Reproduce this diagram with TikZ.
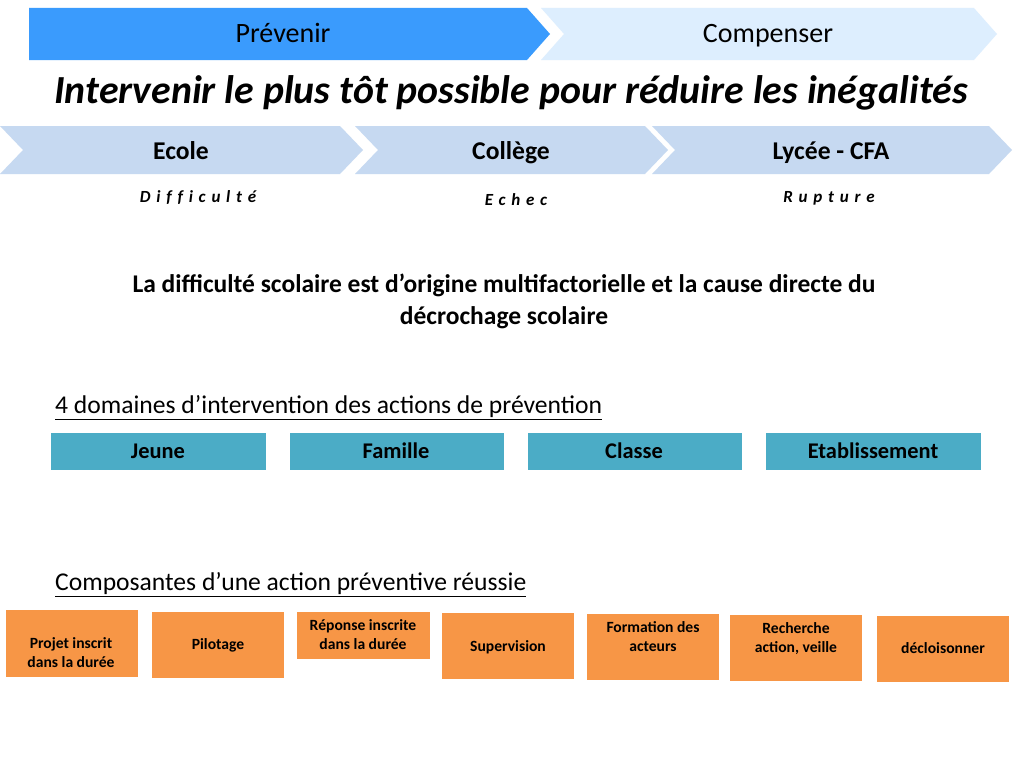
\documentclass[tikz,border=0pt]{standalone}
\usepackage{fontspec}
\setmainfont{Carlito}
\newfontfamily\spacedfont[LetterSpace=34,Ligatures=NoCommon]{Carlito}
\begin{document}
\begin{tikzpicture}[x=1pt,y=-1pt,
  lbl/.style={inner sep=0pt,text=black,align=center,text depth=0pt},
  teal/.style={fill=tealc,draw=white,line width=0.8pt},
  orbox/.style={fill=orangec,draw=white,line width=0.8pt},
  otext/.style={lbl,font=\fontsize{15.6}{19}\selectfont\bfseries,text height=10pt},
  ttext/.style={lbl,font=\fontsize{22.4}{26}\selectfont\bfseries,text height=14.4pt},
  ctext/.style={lbl,font=\fontsize{25.6}{30}\selectfont\bfseries,text height=16.5pt},
  itext/.style={lbl,font=\fontsize{17}{20}\spacedfont\bfseries\itshape,text height=11pt},
  htext/.style={lbl,font=\fontsize{28}{32}\selectfont,text height=18pt},
  utext/.style={lbl,anchor=west,font=\fontsize{25.6}{30}\selectfont,text height=16.5pt},
]
\definecolor{bluec}{HTML}{3A9BFD}
\definecolor{lightc}{HTML}{DDEEFE}
\definecolor{steelc}{HTML}{C6D9F1}
\definecolor{tealc}{HTML}{4BACC6}
\definecolor{orangec}{HTML}{F79646}
\useasboundingbox (0,0) rectangle (1024,768);
\fill[white] (0,0) rectangle (1024,768);
% top chevrons
\fill[bluec] (29,8) -- (527,8) -- (550,34) -- (527,60) -- (29,60) -- cycle;
\fill[lightc] (541,8) -- (974,8) -- (997,34) -- (974,60) -- (541,60) -- (564,34) -- cycle;
\node[htext] (prev) at (283,34) {Prévenir};
\node[htext] (comp) at (768,34) {Compenser};
% title
\node[lbl,font=\fontsize{39.8}{46}\selectfont\bfseries\itshape,text height=25.8pt] (title) at (511,91) {Intervenir le plus tôt possible pour réduire les inégalités};
% second row chevrons
\fill[steelc] (0,126) -- (340,126) -- (363,150) -- (340,174) -- (0,174) -- (23,150) -- cycle;
\fill[steelc] (355,126) -- (645,126) -- (668,150) -- (645,174) -- (355,174) -- (378,150) -- cycle;
\fill[steelc] (652,126) -- (989,126) -- (1012,150) -- (989,174) -- (652,174) -- (675,150) -- cycle;
\node[ctext] (ecole) at (181,151) {Ecole};
\node[ctext] (college) at (511,151) {Collège};
\node[ctext] (lycee) at (831,151) {Lycée - CFA};
\node[itext] (diff) at (198,197) {Difficulté};
\node[itext] (echec) at (516,200) {Echec};
\node[itext] (rupt) at (829,197) {Rupture};
% paragraph
\node[lbl,font=\fontsize{25.5}{32}\selectfont\bfseries,text height=16.4pt] (para) at (504,316) {La difficulté scolaire est d’origine multifactorielle et la cause directe du\\décrochage scolaire};
% domaines
\node[utext] (dom) at (55,405) {\underline{4 domaines d’intervention des actions de prévention}};
\draw[teal] (50,432) rectangle (266,470); \node[ttext] (jeune) at (158,451) {Jeune};
\draw[teal] (289,432) rectangle (504,470); \node[ttext] (famille) at (396,451) {Famille};
\draw[teal] (527,432) rectangle (742,470); \node[ttext] (classe) at (634,451) {Classe};
\draw[teal] (765,432) rectangle (981,470); \node[ttext] (etab) at (873,451) {Etablissement};
% composantes
\node[utext] (compo) at (55,582) {\underline{Composantes d’une action préventive réussie}};
\draw[orbox] (5,609) rectangle (138,677); \node[otext] (c1) at (71,662) {Projet inscrit\\dans la durée};
\draw[orbox] (151,611) rectangle (284,678); \node[otext] (c2) at (218,644) {Pilotage};
\draw[orbox] (296,611) rectangle (430,659); \node[otext] (c3) at (363,644.5) {Réponse inscrite\\dans la durée};
\draw[orbox] (441,612) rectangle (574,679); \node[otext] (c4) at (508,646) {Supervision};
\draw[orbox] (586,613) rectangle (719,680); \node[otext] (c5) at (653,646.5) {Formation des\\acteurs};
\draw[orbox] (729,614) rectangle (862,681); \node[otext] (c6) at (796,647.5) {Recherche\\action, veille};
\draw[orbox] (876,615) rectangle (1009,682); \node[otext] (c7) at (943,648) {décloisonner};
\end{tikzpicture}
\end{document}
